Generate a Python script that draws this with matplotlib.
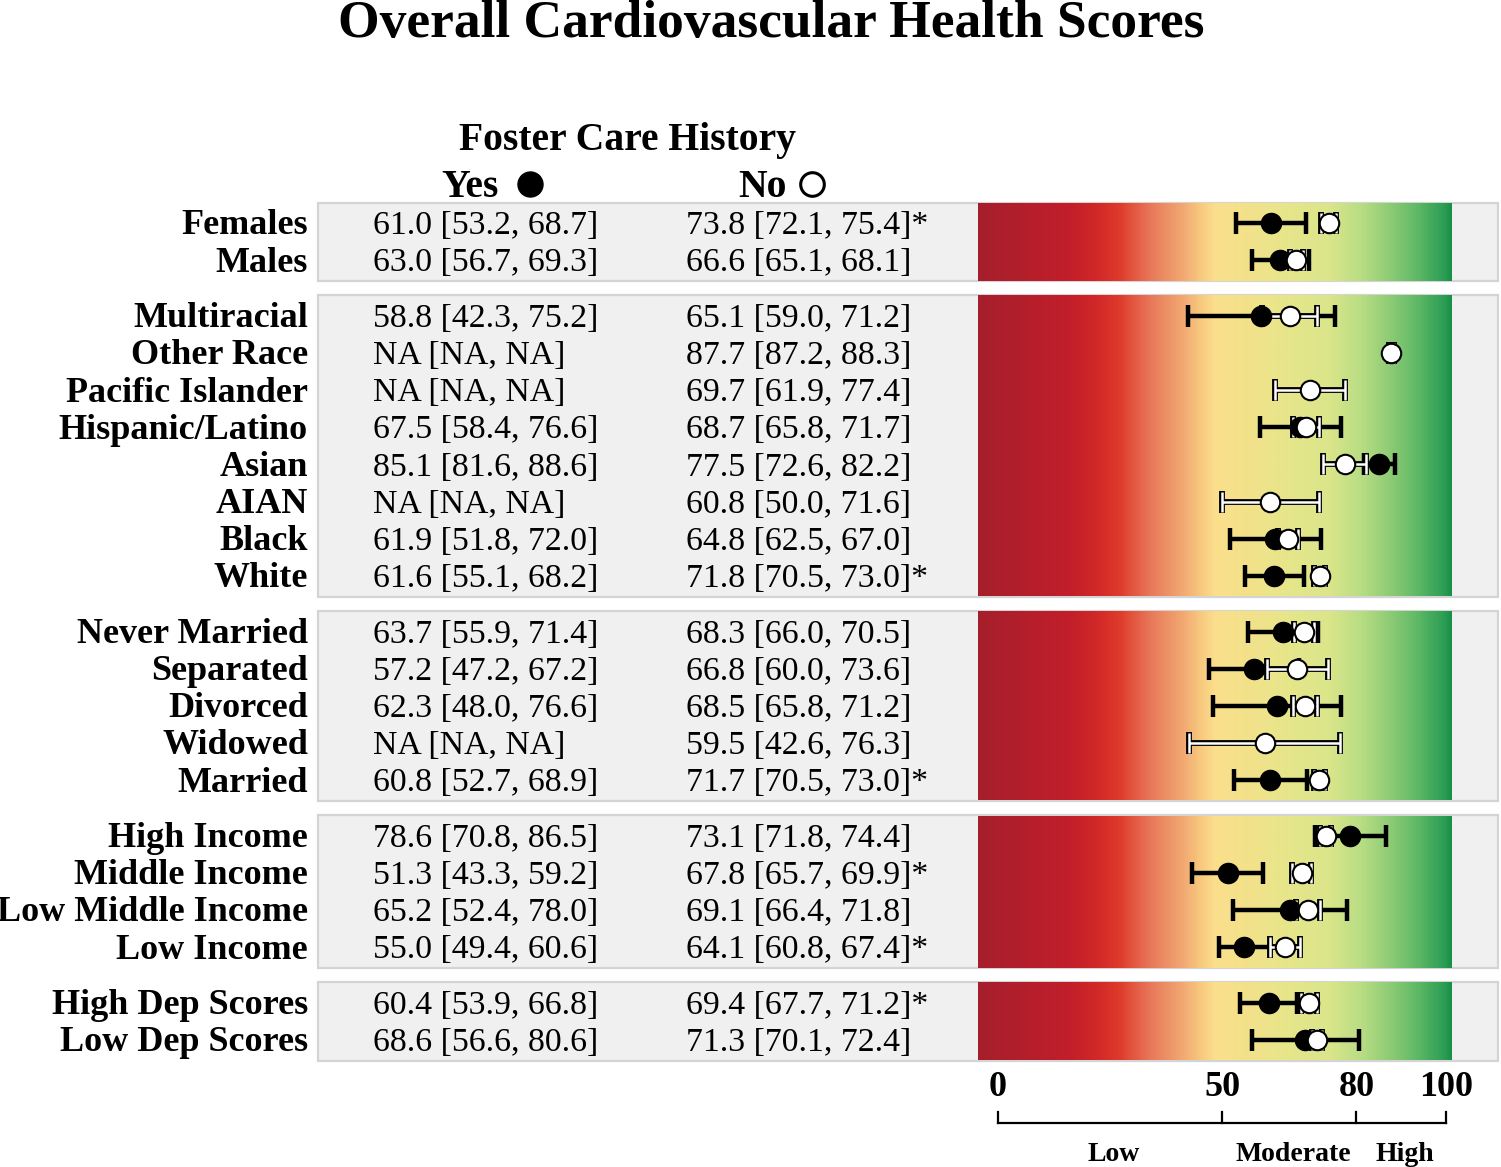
import numpy as np
import matplotlib
matplotlib.use("Agg")
import matplotlib.pyplot as plt
from matplotlib.colors import LinearSegmentedColormap
from matplotlib.patches import Rectangle
import matplotlib.transforms as mtransforms

plt.rcParams['font.family'] = ['Liberation Serif', 'DejaVu Serif']

nan = np.nan
labels = ["Females", "Males",
          "Multiracial", "Other Race", "Pacific Islander", "Hispanic/Latino",
          "Asian", "AIAN", "Black", "White",
          "Never Married", "Separated", "Divorced", "Widowed", "Married",
          "High Income", "Middle Income", "Low Middle Income", "Low Income",
          "High Dep Scores", "Low Dep Scores"]
group_sizes = [2, 8, 5, 4, 2]

yes_est = [61.0, 63.0, 58.8, nan, nan, 67.5, 85.1, nan, 61.9, 61.6,
           63.7, 57.2, 62.3, nan, 60.8, 78.6, 51.3, 65.2, 55.0, 60.4, 68.6]
yes_lo = [53.2, 56.7, 42.3, nan, nan, 58.4, 81.6, nan, 51.8, 55.1,
          55.9, 47.2, 48.0, nan, 52.7, 70.8, 43.3, 52.4, 49.4, 53.9, 56.6]
yes_hi = [68.7, 69.3, 75.2, nan, nan, 76.6, 88.6, nan, 72.0, 68.2,
          71.4, 67.2, 76.6, nan, 68.9, 86.5, 59.2, 78.0, 60.6, 66.8, 80.6]

no_est = [73.8, 66.6, 65.1, 87.7, 69.7, 68.7, 77.5, 60.8, 64.8, 71.8,
          68.3, 66.8, 68.5, 59.5, 71.7, 73.1, 67.8, 69.1, 64.1, 69.4, 71.3]
no_lo = [72.1, 65.1, 59.0, 87.2, 61.9, 65.8, 72.6, 50.0, 62.5, 70.5,
         66.0, 60.0, 65.8, 42.6, 70.5, 71.8, 65.7, 66.4, 60.8, 67.7, 70.1]
no_hi = [75.4, 68.1, 71.2, 88.3, 77.4, 71.7, 82.2, 71.6, 67.0, 73.0,
         70.5, 73.6, 71.2, 76.3, 73.0, 74.4, 69.9, 71.8, 67.4, 71.2, 72.4]
signif = ["Females", "White", "Married", "Middle Income", "Low Income",
          "High Dep Scores"]

scale_ticks = [0, 50, 80, 100]
scale_names = ["Low", "Moderate", "High"]

# gradient colour stops (score, colour)
grad_scores = [-4.5, 16, 22.8, 27.2, 33.9, 40.6, 45.1, 48.4, 56.3, 65.2,
               74.1, 80.8, 87.5, 94.2, 99.8, 101.3]
grad_colors = ["#a61e2c", "#c21f2a", "#d42a28", "#de3c2c", "#e8785a",
               "#f1a470", "#f7c87e", "#fbdf8c", "#f2e28a", "#e6e68a",
               "#dbe58a", "#bade84", "#90cc76", "#5cb865", "#2c9d55",
               "#189146"]

# row positions, half a row extra between groups
ypos = []
y = 0.0
groups = []
for g in group_sizes:
    start = y
    for i in range(g):
        ypos.append(y)
        y += 1
    groups.append((start, y - 1))
    y += 0.5
ypos = np.array(ypos)


def fmt(e, lo, hi):
    if np.isnan(e):
        return "NA [NA, NA]"
    return f"{e:.1f} [{lo:.1f}, {hi:.1f}]"


fig = plt.figure(figsize=(15.01, 11.67), dpi=100)
ax = fig.add_axes([318 / 1501, 1 - 1060.4 / 1167, 1180 / 1501, 857.8 / 1167])
ax.set_xlim(-151.8, 111.6)
ax.set_ylim(22.55, -0.55)
ax.axis("off")

trans = mtransforms.blended_transform_factory(ax.transAxes, ax.transData)

g0, g1 = grad_scores[0], grad_scores[-1]
stops = [((s - g0) / (g1 - g0), c) for s, c in zip(grad_scores, grad_colors)]
cmap = LinearSegmentedColormap.from_list("chs", stops)
grad = np.linspace(0, 1, 500).reshape(1, -1)

for top, bot in groups:
    ax.add_patch(Rectangle((0, top - 0.55), 1, bot - top + 1.12, transform=trans,
                           facecolor="#f0f0f0", edgecolor="#d4d4d4", lw=1.6,
                           clip_on=False, zorder=0))
    ax.imshow(grad, cmap=cmap, aspect="auto", zorder=1,
              extent=(g0, g1, bot + 0.55, top - 0.53))

# confidence intervals and points
yes_err = [np.array(yes_est) - np.array(yes_lo), np.array(yes_hi) - np.array(yes_est)]
no_err = [np.array(no_est) - np.array(no_lo), np.array(no_hi) - np.array(no_est)]
ax.errorbar(yes_est, ypos, xerr=yes_err, fmt="none", ecolor="black",
            elinewidth=3.2, capsize=8, capthick=3.2, zorder=3)
ax.errorbar(no_est, ypos, xerr=no_err, fmt="none", ecolor="black",
            elinewidth=4.2, capsize=8, capthick=4.2, zorder=4)
ax.errorbar(no_est, ypos, xerr=no_err, fmt="none", ecolor="white",
            elinewidth=1.8, capsize=7.2, capthick=1.8, zorder=5)
ax.plot(yes_est, ypos, "o", ms=14.5, mfc="black", mec="black", zorder=6)
ax.plot(no_est, ypos, "o", ms=14, mfc="white", mec="black", mew=1.5, zorder=7)

# text columns
dy = 0.08
for i, lab in enumerate(labels):
    yy = ypos[i] + dy
    ax.text(-0.0085, yy, lab, transform=trans, ha="right", va="center",
            fontsize=26, fontweight="bold")
    ax.text(-139.5, yy, fmt(yes_est[i], yes_lo[i], yes_hi[i]), ha="left",
            va="center", fontsize=24.3, zorder=2)
    star = "*" if lab in signif else ""
    ax.text(-69.6, yy, fmt(no_est[i], no_lo[i], no_hi[i]) + star, ha="left",
            va="center", fontsize=24.3, zorder=2)

# headers
ax.text(-82.8, -2.29 + dy, "Foster Care History", ha="center", va="center",
        fontsize=28.5, fontweight="bold")
ax.text(-111.4, -1.05 + dy, "Yes", ha="right", va="center", fontsize=28.5,
        fontweight="bold")
ax.plot([-104.5], [-1.05], "o", ms=18, mfc="black", mec="black",
        clip_on=False)
ax.text(-47.3, -1.05 + dy, "No", ha="right", va="center", fontsize=28.5,
        fontweight="bold")
ax.plot([-41.5], [-1.05], "o", ms=17, mfc="white", mec="black", mew=2.2,
        clip_on=False)

# bottom scale
ax.plot([0, 100], [24.23, 24.23], color="black", lw=1.6, clip_on=False)
for t in scale_ticks:
    ax.plot([t, t], [23.93, 24.23], color="black", lw=1.6, clip_on=False)
    ax.text(t, 23.21 + dy, str(t), ha="center", va="center", fontsize=26,
            fontweight="bold")
mids = [(scale_ticks[i] + scale_ticks[i + 1]) / 2 for i in range(3)]
for m, name in zip(mids, scale_names):
    ax.text(m + 0.8, 25.01 + dy, name, ha="center", va="center", fontsize=20,
            fontweight="bold")

fig.text(771 / 1501, 1 - 24 / 1167, "Overall Cardiovascular Health Scores",
         ha="center", va="center", fontsize=38.5, fontweight="bold")

fig.savefig("out.png", dpi=100)
